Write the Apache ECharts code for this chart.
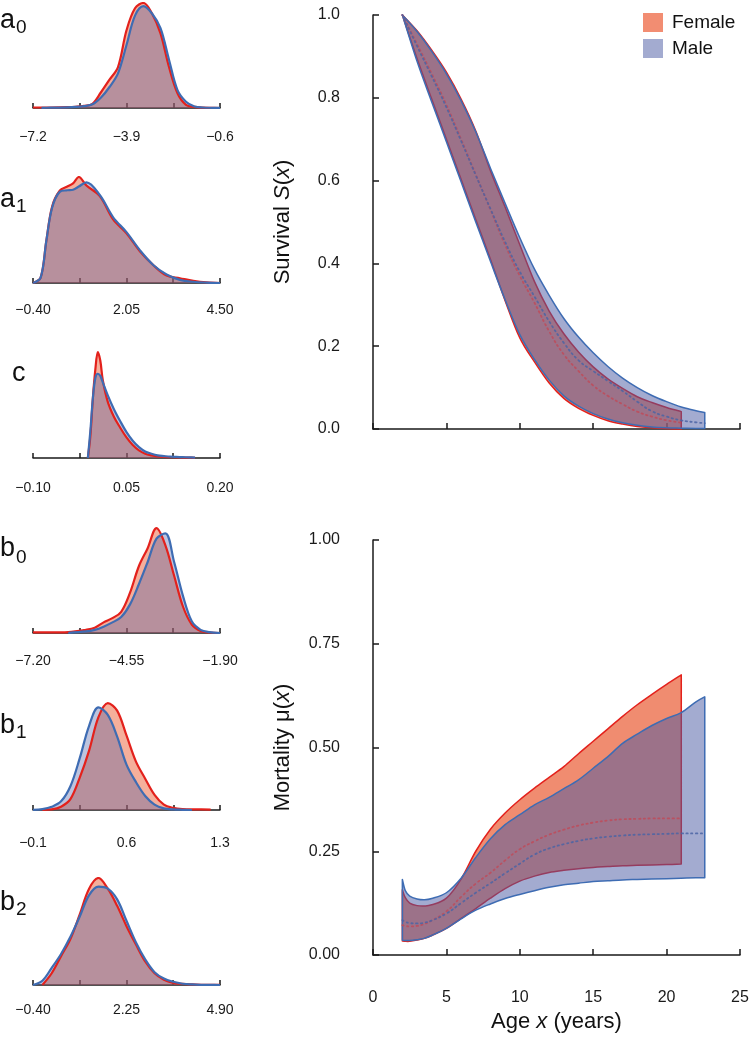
<!DOCTYPE html>
<html>
<head>
<meta charset="utf-8">
<script src="https://cdn.jsdelivr.net/npm/echarts@6/dist/echarts.min.js"></script>
<style>
html,body{margin:0;padding:0;background:#fff;}
#chart{width:751px;height:1039px;}
</style>
</head>
<body>
<div id="chart"></div>
<script>
// ---------------- DATA ----------------
// Posterior densities (relative height), female / male
const a0X      = [-7.2,-6.9,-6.6,-6.3,-6.0,-5.7,-5.4,-5.1,-4.8,-4.5,-4.2,-3.9,-3.6,-3.3,-3.0,-2.7,-2.4,-2.1,-1.8,-1.5,-1.2,-0.9,-0.6];
const a0Female = [0.005,0.005,0.005,0.006,0.008,0.012,0.02,0.04,0.15,0.27,0.39,0.74,0.95,1.0,0.9,0.71,0.39,0.14,0.03,0.01,0.003,0.001,0];
const a0Male   = [null,0.002,0.003,0.004,0.006,0.01,0.018,0.035,0.1,0.2,0.33,0.6,0.88,0.97,0.9,0.76,0.46,0.17,0.06,0.015,0.005,0.002,0.001];
const a0Ticks  = [-7.2,-5.55,-3.9,-2.25,-0.6];
const a0Labels = ['-7.2','-3.9','-0.6'];

const a1X      = [-0.4,-0.2,-0.05,0.1,0.3,0.5,0.65,0.8,1.0,1.35,1.7,2.05,2.4,2.75,3.1,3.45,3.8,4.15,4.5];
const a1Female = [0,0.05,0.4,0.72,0.87,0.91,0.94,1.0,0.92,0.82,0.6,0.47,0.3,0.17,0.07,0.045,0.02,0.005,0];
const a1Male   = [0,0.05,0.4,0.71,0.86,0.875,0.88,0.91,0.95,0.83,0.62,0.48,0.31,0.17,0.08,0.03,0.012,0.004,0];
const a1Ticks  = [-0.4,0.825,2.05,3.275,4.5];
const a1Labels = ['-0.40','2.05','4.50'];

const cX       = [-0.012,-0.008,-0.004,0,0.004,0.008,0.012,0.02,0.03,0.04,0.05,0.06,0.07,0.08,0.09,0.1,0.11,0.12,0.13,0.14,0.15,0.16];
const cFemale  = [0,0.2,0.55,0.82,0.98,0.9,0.72,0.52,0.38,0.28,0.19,0.12,0.07,0.04,0.025,0.015,0.01,0.008,0.006,0.004,0.003,0.002];
const cMale    = [0,0.25,0.55,0.74,0.78,0.76,0.7,0.58,0.45,0.34,0.24,0.16,0.1,0.06,0.04,0.025,0.018,0.012,0.01,0.008,0.006,0.004];
const cTicks   = [-0.1,-0.025,0.05,0.125,0.2];
const cLabels  = ['-0.10','0.05','0.20'];

const b0X      = [-7.2,-6.7,-6.2,-5.7,-5.45,-5.2,-4.95,-4.7,-4.45,-4.2,-3.95,-3.7,-3.45,-3.2,-2.95,-2.7,-2.45,-2.2,-1.9];
const b0Female = [0.005,0.005,0.008,0.03,0.05,0.1,0.14,0.2,0.38,0.63,0.8,0.99,0.83,0.54,0.25,0.08,0.02,0.005,0];
const b0Male   = [null,null,0.002,0.015,0.03,0.06,0.1,0.15,0.27,0.46,0.67,0.89,0.94,0.67,0.35,0.11,0.03,0.008,0];
const b0Ticks  = [-7.2,-5.875,-4.55,-3.225,-1.9];
const b0Labels = ['-7.20','-4.55','-1.90'];

const b1X      = [-0.1,-0.03,0.04,0.11,0.18,0.25,0.32,0.39,0.46,0.53,0.6,0.67,0.74,0.81,0.88,0.95,1.02,1.09,1.16,1.23,1.3];
const b1Female = [null,0.001,0.005,0.03,0.1,0.3,0.55,0.86,0.99,0.92,0.69,0.45,0.29,0.14,0.05,0.02,0.008,0.005,0.005,0.003,null];
const b1Male   = [0.002,0.008,0.03,0.08,0.22,0.48,0.78,0.95,0.88,0.68,0.42,0.26,0.13,0.05,0.015,0.005,0.002,0,null,null,null];
const b1Ticks  = [-0.1,0.25,0.6,0.95,1.3];
const b1Labels = ['-0.1','0.6','1.3'];

const b2X      = [-0.4,-0.135,0.13,0.395,0.66,0.925,1.19,1.455,1.72,1.985,2.25,2.515,2.78,3.045,3.31,3.575,3.84,4.105,4.37,4.635,4.9];
const b2Female = [null,0,0.11,0.27,0.43,0.66,0.9,1.0,0.9,0.74,0.55,0.38,0.22,0.11,0.05,0.02,0.01,0.005,0.002,0.001,0.001];
const b2Male   = [0,0.04,0.16,0.29,0.45,0.64,0.84,0.92,0.9,0.8,0.6,0.4,0.24,0.12,0.06,0.03,0.012,0.005,0.002,0.001,0];
const b2Ticks  = [-0.4,0.925,2.25,3.575,4.9];
const b2Labels = ['-0.40','2.25','4.90'];

// Survival S(x): 95% band and median
const survAges         = [2,3,4,5,6,7,8,9,10,11,12,13,14,15,16,17,18,19,20,21,22,22.6];
const femSurvLower     = [1,0.895,0.797,0.70,0.603,0.506,0.41,0.31,0.22,0.162,0.111,0.074,0.05,0.033,0.02,0.012,0.006,0.003,0.001,0.0];
const femSurvUpper     = [1,0.962,0.915,0.862,0.797,0.72,0.624,0.536,0.445,0.356,0.285,0.23,0.186,0.15,0.121,0.098,0.078,0.064,0.052,0.042];
const femSurvMedian    = [1,0.93,0.858,0.783,0.70,0.615,0.53,0.445,0.37,0.305,0.236,0.18,0.14,0.105,0.08,0.06,0.042,0.03,0.021,0.015];
const maleSurvLower    = [1,0.888,0.79,0.694,0.597,0.5,0.405,0.312,0.228,0.168,0.118,0.08,0.055,0.037,0.024,0.015,0.009,0.005,0.003,0.002,0.001,0.001];
const maleSurvUpper    = [1,0.96,0.912,0.858,0.793,0.718,0.63,0.545,0.462,0.386,0.323,0.267,0.222,0.184,0.151,0.123,0.1,0.081,0.066,0.053,0.044,0.04];
const maleSurvMedian   = [1,0.925,0.852,0.777,0.696,0.613,0.532,0.452,0.38,0.32,0.26,0.208,0.166,0.14,0.116,0.092,0.066,0.043,0.03,0.021,0.016,0.014];

// Mortality mu(x): 95% band and median
const mortAges         = [2,2.2,2.5,3,3.5,4,5,6,7,8,9,10,11,12,13,14,15,16,17,18,19,20,21,22,22.6];
const femMortLower     = [0.034,0.033,0.033,0.036,0.04,0.047,0.064,0.088,0.112,0.137,0.16,0.178,0.19,0.199,0.204,0.208,0.211,0.213,0.215,0.216,0.217,0.218,0.219];
const femMortUpper     = [0.157,0.138,0.125,0.119,0.118,0.121,0.137,0.183,0.25,0.303,0.342,0.374,0.402,0.428,0.454,0.485,0.515,0.545,0.575,0.603,0.628,0.652,0.675];
const femMortMedian    = [0.072,0.07,0.069,0.07,0.075,0.083,0.105,0.14,0.172,0.198,0.228,0.255,0.274,0.29,0.302,0.312,0.319,0.324,0.327,0.328,0.329,0.329,0.329];
const maleMortLower    = [0.036,0.035,0.035,0.037,0.04,0.047,0.064,0.087,0.108,0.123,0.136,0.146,0.155,0.163,0.169,0.173,0.177,0.179,0.181,0.182,0.183,0.184,0.185,0.186,0.186];
const maleMortUpper    = [0.182,0.155,0.142,0.135,0.133,0.136,0.15,0.185,0.235,0.28,0.314,0.338,0.362,0.38,0.401,0.422,0.45,0.478,0.51,0.532,0.553,0.57,0.584,0.61,0.622];
const maleMortMedian   = [0.084,0.08,0.077,0.076,0.078,0.083,0.1,0.125,0.15,0.173,0.197,0.22,0.242,0.257,0.267,0.275,0.281,0.285,0.288,0.29,0.291,0.292,0.293,0.293,0.293];

const survYTicks = ['0.0','0.2','0.4','0.6','0.8','1.0'];
const mortYTicks = ['0.00','0.25','0.50','0.75','1.00'];
const ageTicks   = ['0','5','10','15','20','25'];

// ---------------- STYLE ----------------
const FONT = "'Liberation Sans', Arial, Helvetica, sans-serif";
const FEM_LINE = '#E3211C';
const MALE_LINE = '#3E6CB3';
const FEM_FILL = 'rgba(234,91,51,0.70)';
const MALE_FILL = 'rgba(71,87,161,0.50)';
const FEM_MED = 'rgba(190,75,90,0.85)';
const MALE_MED = 'rgba(75,100,165,0.85)';
const AXIS_COL = '#1a1a1a';
const MINUS = '\u2212';

const chart = echarts.init(document.getElementById('chart'), null, {renderer: 'canvas'});

function fmtMinus(s) { return s.replace('-', MINUS); }

function curve(pts) {
  let d = '';
  for (let i = 0; i < pts.length - 1; i++) {
    const p0 = pts[i - 1] || pts[i], p1 = pts[i], p2 = pts[i + 1], p3 = pts[i + 2] || pts[i + 1];
    const c1x = p1[0] + (p2[0] - p0[0]) / 6, c1y = p1[1] + (p2[1] - p0[1]) / 6;
    const c2x = p2[0] - (p3[0] - p1[0]) / 6, c2y = p2[1] - (p3[1] - p1[1]) / 6;
    d += ' C' + c1x + ',' + c1y + ' ' + c2x + ',' + c2y + ' ' + p2[0] + ',' + p2[1];
  }
  return d;
}

function bandSeries(name, ages, lower, upper, fill, stroke, axisIdx) {
  const n = lower.length;
  const a = ages.slice(0, n);
  return {
    type: 'custom', name: name, coordinateSystem: 'cartesian2d',
    xAxisIndex: axisIdx, yAxisIndex: axisIdx, silent: true,
    data: a.map((x, i) => [x, lower[i], upper[i]]),
    encode: {x: 0, y: [1, 2]},
    renderItem: function (params, api) {
      if (params.dataIndexInside !== 0) return null;
      const up = a.map((x, i) => api.coord([x, upper[i]]));
      const lo = a.map((x, i) => api.coord([x, lower[i]])).reverse();
      const d = 'M' + up[0][0] + ',' + up[0][1] + curve(up) +
                ' L' + lo[0][0] + ',' + lo[0][1] + curve(lo) + ' Z';
      return {type: 'path', shape: {pathData: d},
              style: {fill: fill, stroke: stroke, lineWidth: 1.5, lineJoin: 'round'}};
    }
  };
}

function medianSeries(ages, med, color, axisIdx) {
  return {
    type: 'line', xAxisIndex: axisIdx, yAxisIndex: axisIdx, silent: true,
    data: med.map((v, i) => [ages[i], v]),
    smooth: 0.5, showSymbol: false, symbol: 'none',
    lineStyle: {color: color, width: 1.8, type: [1.4, 3.4], cap: 'round'}
  };
}

function densitySeries(xs, vals, line, fill, axisIdx) {
  const data = [];
  xs.forEach((x, i) => { if (vals[i] !== null) data.push([x, vals[i]]); });
  return {
    type: 'line', xAxisIndex: axisIdx, yAxisIndex: axisIdx, silent: true,
    data: data, smooth: 0.35, showSymbol: false, symbol: 'none',
    lineStyle: {color: line, width: 2.2},
    areaStyle: {color: fill}
  };
}

// small panels
const panels = [
  {xs: a0X, f: a0Female, m: a0Male, ticks: a0Ticks, labels: a0Labels, top: 3,   height: 105, offset: 9},
  {xs: a1X, f: a1Female, m: a1Male, ticks: a1Ticks, labels: a1Labels, top: 177, height: 106, offset: 7},
  {xs: cX,  f: cFemale,  m: cMale,  ticks: cTicks,  labels: cLabels,  top: 350, height: 108, offset: 10},
  {xs: b0X, f: b0Female, m: b0Male, ticks: b0Ticks, labels: b0Labels, top: 527, height: 106, offset: 8},
  {xs: b1X, f: b1Female, m: b1Male, ticks: b1Ticks, labels: b1Labels, top: 702, height: 108, offset: 13},
  {xs: b2X, f: b2Female, m: b2Male, ticks: b2Ticks, labels: b2Labels, top: 878, height: 107, offset: 5}
];

const grids = [
  {left: 373, top: 15, width: 367, height: 414},
  {left: 373, top: 540, width: 367, height: 415}
];
const xAxes = [], yAxes = [], series = [];

const axisLineStyle = {show: true, lineStyle: {color: AXIS_COL, width: 1.5}};
const tickStyle = {show: true, inside: true, length: 6, lineStyle: {color: AXIS_COL, width: 1.5}};

// survival axes
xAxes.push({gridIndex: 0, type: 'value', min: 0, max: 25, interval: 5, offset: 24,
  axisLine: axisLineStyle, axisTick: tickStyle, axisLabel: {show: false}, splitLine: {show: false}});
yAxes.push({gridIndex: 0, type: 'value', min: 0, max: 1, interval: 0.2, offset: 14,
  axisLine: axisLineStyle, axisTick: tickStyle, splitLine: {show: false},
  axisLabel: {margin: 19, fontSize: 16, color: '#1a1a1a', fontFamily: FONT,
    formatter: v => survYTicks.find(s => Math.abs(parseFloat(s) - v) < 1e-9) || ''},
  name: 'Survival {i|S}({i|x})', nameLocation: 'middle', nameGap: 65, nameRotate: 90,
  nameTextStyle: {fontSize: 22, color: '#111', fontFamily: FONT,
    rich: {i: {fontSize: 22, fontStyle: 'italic', color: '#111', fontFamily: FONT}}}});

// mortality axes
xAxes.push({gridIndex: 1, type: 'value', min: 0, max: 25, interval: 5, offset: 25,
  axisLine: axisLineStyle, axisTick: tickStyle, splitLine: {show: false},
  axisLabel: {margin: 10, fontSize: 16, color: '#1a1a1a', fontFamily: FONT,
    formatter: v => ageTicks.find(s => Math.abs(parseFloat(s) - v) < 1e-9) || ''},
  name: 'Age {i|x} (years)', nameLocation: 'middle', nameGap: 31,
  nameTextStyle: {fontSize: 22, color: '#111', fontFamily: FONT,
    rich: {i: {fontSize: 22, fontStyle: 'italic', color: '#111', fontFamily: FONT}}}});
yAxes.push({gridIndex: 1, type: 'value', min: 0, max: 1, interval: 0.25, offset: 14,
  axisLine: axisLineStyle, axisTick: tickStyle, splitLine: {show: false},
  axisLabel: {margin: 19, fontSize: 16, color: '#1a1a1a', fontFamily: FONT,
    formatter: v => mortYTicks.find(s => Math.abs(parseFloat(s) - v) < 1e-9) || ''},
  name: 'Mortality \u03bc({i|x})', nameLocation: 'middle', nameGap: 65, nameRotate: 90,
  nameTextStyle: {fontSize: 22, color: '#111', fontFamily: FONT,
    rich: {i: {fontSize: 22, fontStyle: 'italic', color: '#111', fontFamily: FONT}}}});

// band series
series.push(bandSeries('Female', survAges, femSurvLower, femSurvUpper, FEM_FILL, FEM_LINE, 0));
series.push(medianSeries(survAges, femSurvMedian, FEM_MED, 0));
series.push(bandSeries('Male', survAges, maleSurvLower, maleSurvUpper, MALE_FILL, MALE_LINE, 0));
series.push(medianSeries(survAges, maleSurvMedian, MALE_MED, 0));

series.push(bandSeries('Female', mortAges, femMortLower, femMortUpper, FEM_FILL, FEM_LINE, 1));
series.push(medianSeries(mortAges, femMortMedian, FEM_MED, 1));
series.push(bandSeries('Male', mortAges, maleMortLower, maleMortUpper, MALE_FILL, MALE_LINE, 1));
series.push(medianSeries(mortAges, maleMortMedian, MALE_MED, 1));

panels.forEach((p, k) => {
  const gi = k + 2;
  grids.push({left: 33, width: 187, top: p.top, height: p.height});
  const labelVals = p.labels.map(s => parseFloat(s));
  xAxes.push({gridIndex: gi, type: 'value', min: p.ticks[0], max: p.ticks[p.ticks.length - 1],
    offset: p.offset, axisLine: axisLineStyle, splitLine: {show: false},
    axisTick: {show: true, inside: true, length: 5, lineStyle: {color: AXIS_COL, width: 1.5},
      customValues: p.ticks},
    axisLabel: {show: true, margin: 13, fontSize: 14, color: '#1a1a1a', fontFamily: FONT,
      customValues: labelVals, showMinLabel: true, showMaxLabel: true,
      formatter: v => { const s = p.labels.find(t => Math.abs(parseFloat(t) - v) < 1e-9); return s ? fmtMinus(s) : ''; }}});
  yAxes.push({gridIndex: gi, type: 'value', min: 0, max: 1, show: false, splitLine: {show: false}});
  series.push(densitySeries(p.xs, p.f, FEM_LINE, FEM_FILL, gi));
  series.push(densitySeries(p.xs, p.m, MALE_LINE, MALE_FILL, gi));
});

grids.forEach(g => { g.outerBoundsMode = 'none'; g.containLabel = false; });

function lbl(ch, sub, x, y, subDx, subDy) {
  const out = [{type: 'text', x: x, y: y + 4,
    style: {text: ch, fontSize: 27, fontFamily: FONT, fill: '#111', verticalAlign: 'bottom'}}];
  if (sub !== null) out.push({type: 'text', x: x + subDx, y: y + subDy + 3,
    style: {text: sub, fontSize: 19, fontFamily: FONT, fill: '#111', verticalAlign: 'bottom'}});
  return out;
}

const graphics = [].concat(
  lbl('a', '0', 0, 30, 16, 4),
  lbl('a', '1', 0, 209, 16, 4),
  lbl('c', null, 12, 383, 0, 0),
  lbl('b', '0', 0, 558, 16, 6),
  lbl('b', '1', 0, 735, 16, 4),
  lbl('b', '2', 0, 912, 16, 4)
);

chart.setOption({
  backgroundColor: '#ffffff',
  animation: false,
  grid: grids,
  xAxis: xAxes,
  yAxis: yAxes,
  legend: {
    show: true, orient: 'vertical', left: 643, top: 13, padding: 0,
    itemWidth: 20, itemHeight: 19, itemGap: 7, selectedMode: false, icon: 'rect',
    textStyle: {fontSize: 19, color: '#111', fontFamily: FONT, padding: [0, 0, 0, 4]},
    data: [
      {name: 'Female', icon: 'rect', itemStyle: {color: 'rgb(242,141,114)', borderWidth: 0}},
      {name: 'Male', icon: 'rect', itemStyle: {color: 'rgb(163,171,208)', borderWidth: 0}}
    ]
  },
  graphic: graphics,
  series: series
});
</script>
</body>
</html>
